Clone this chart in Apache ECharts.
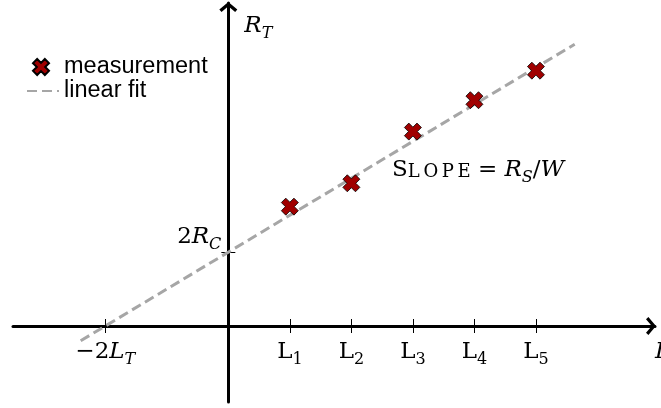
<!DOCTYPE html>
<html>
<head>
<meta charset="utf-8">
<script src="https://cdn.jsdelivr.net/npm/echarts@6/dist/echarts.min.js"></script>
<style>
  html, body { margin: 0; padding: 0; background: #fff; }
  #chart { width: 661px; height: 408px; }
</style>
</head>
<body>
<div id="chart"></div>
<script>
// Transfer-length method: total resistance against channel length
const lengthIndex = [1, 2, 3, 4, 5];
const totalResistance = [1.94, 2.32, 3.16, 3.67, 4.15];

// end points of the linear fit (crosses x at -2, y at 1.2)
const fitX = [-2.4, 5.63];
const fitY = [-0.24, 4.58];

// marked values on the axes
const xTickValues = [-2, 1, 2, 3, 4, 5];
const yTickValues = [1.2];

// where the slope note sits
const slopeNoteAt = [4.06, 2.53];

const X_MIN = -3.5, X_MAX = 6.935;
const Y_MIN = -1.235, Y_MAX = 5.25;

// grid box in pixels; the axes cross at data (0, 0)
const GRID = { left: 13, top: 3, width: 642, height: 399 };
const xZeroShift = -GRID.height * (0 - Y_MIN) / (Y_MAX - Y_MIN);   // lift x axis from the bottom edge to y = 0
const yZeroShift = -GRID.width * (0 - X_MIN) / (X_MAX - X_MIN);    // move y axis from the left edge to x = 0

const SERIF = 'DejaVu Serif';
const SANS = 'Liberation Sans';

const chevron = 'path://M0,7.6 L9,0 L18,7.6 L15.8,10 L9,4.2 L2.2,10 Z';
const crossMark = 'path://M2.6,0 L5,2.4 L7.4,0 L10,2.6 L7.6,5 L10,7.4 L7.4,10 L5,7.6 L2.6,10 L0,7.4 L2.4,5 L0,2.6 Z';

// every token box is 30px tall; padding drops subscripts below the baseline
const mathRich = {
  m:  { fontFamily: SERIF, fontSize: 23, color: '#000', lineHeight: 30 },
  i:  { fontFamily: SERIF, fontSize: 23, fontStyle: 'italic', color: '#000', lineHeight: 30 },
  s:  { fontFamily: SERIF, fontSize: 16, color: '#000', lineHeight: 15, padding: [15, 0, 0, 0] },
  si: { fontFamily: SERIF, fontSize: 16, fontStyle: 'italic', color: '#000', lineHeight: 15, padding: [15, 0, 0, 0] },
  scs:{ fontFamily: SERIF, fontSize: 18, color: '#000', lineHeight: 20, padding: [6.7, 0, 3.3, 0] }
};

function xLabel(v) {
  if (v < 0) return '{m|\u2212' + (-v) + '}{i|L}{si|T}';
  return '{m|L}{s|' + v + '}';
}

const chart = echarts.init(document.getElementById('chart'), null, { renderer: 'canvas' });

const tickStyle = { color: '#000', width: 1 };
const axisLineStyle = {
  onZero: false,
  lineStyle: { color: '#000', width: 3 },
  symbol: ['none', chevron],
  symbolSize: [18, 10],
  symbolOffset: [0, -4]
};

chart.setOption({
  animation: false,
  backgroundColor: '#fff',
  grid: Object.assign({ containLabel: false, outerBoundsMode: 'none' }, GRID),
  legend: [
    {
      data: ['measurement'],
      left: 32, top: 55, padding: 0,
      itemWidth: 16, itemHeight: 16,
      textStyle: { fontFamily: SANS, fontSize: 23.5, color: '#000', padding: [0, 0, 0, 10] }
    },
    {
      data: ['linear fit'],
      left: 26, top: 79, padding: 0,
      itemWidth: 32, itemHeight: 14,
      itemStyle: { opacity: 0 },
      textStyle: { fontFamily: SANS, fontSize: 23.5, color: '#000' }
    }
  ],
  xAxis: [
    {
      type: 'value', min: X_MIN, max: X_MAX,
      position: 'bottom', offset: xZeroShift,
      splitLine: { show: false },
      axisLine: axisLineStyle,
      axisTick: { customValues: xTickValues, length: 7, lineStyle: tickStyle },
      axisLabel: { customValues: xTickValues, margin: 11, formatter: xLabel, rich: mathRich },
      name: '{i|L}',
      nameLocation: 'end',
      nameGap: 0,
      nameTextStyle: { rich: mathRich, align: 'left', verticalAlign: 'top', padding: [11, 0, 0, 0] }
    },
    {
      type: 'value', min: X_MIN, max: X_MAX,
      position: 'bottom', offset: xZeroShift,
      splitLine: { show: false },
      axisLine: { show: false, onZero: false },
      axisLabel: { show: false },
      axisTick: { show: true, inside: true, customValues: xTickValues, length: 7, lineStyle: tickStyle }
    }
  ],
  yAxis: [
    {
      type: 'value', min: Y_MIN, max: Y_MAX,
      position: 'left', offset: yZeroShift,
      splitLine: { show: false },
      axisLine: axisLineStyle,
      axisTick: { customValues: yTickValues, length: 7, lineStyle: tickStyle },
      axisLabel: {
        customValues: yTickValues, margin: 7, verticalAlign: 'bottom',
        formatter: function () { return '{m|2}{i|R}{si|C}'; }, rich: mathRich
      },
      name: '{i|R}{si|T}',
      nameLocation: 'end',
      nameGap: -23,
      nameTextStyle: { rich: mathRich, align: 'left', verticalAlign: 'middle', padding: [0, 0, 0, 16] }
    },
    {
      type: 'value', min: Y_MIN, max: Y_MAX,
      position: 'left', offset: yZeroShift,
      splitLine: { show: false },
      axisLine: { show: false, onZero: false },
      axisLabel: { show: false },
      axisTick: { show: true, inside: true, customValues: yTickValues, length: 7, lineStyle: tickStyle }
    }
  ],
  series: [
    {
      name: 'linear fit',
      type: 'line',
      xAxisIndex: 0, yAxisIndex: 0,
      data: fitX.map((x, k) => [x, fitY[k]]),
      symbol: 'none',
      z: 3,
      lineStyle: { color: '#A6A6A6', width: 3, type: [10, 5] },
      itemStyle: { color: '#A6A6A6' },
      markPoint: {
        symbol: 'circle', symbolSize: 0,
        silent: true,
        label: {
          show: true, position: 'inside',
          formatter: '{m|S}{scs|L\u2009O\u2009P\u2009E}{m| = }{i|R}{si|S}{m|/}{i|W}',
          rich: mathRich
        },
        data: [{ coord: slopeNoteAt }]
      }
    },
    {
      name: 'measurement',
      type: 'scatter',
      xAxisIndex: 0, yAxisIndex: 0,
      z: 4,
      symbol: crossMark,
      symbolSize: 17,
      data: lengthIndex.map((x, k) => [x, totalResistance[k]]),
      itemStyle: { color: '#A00000', borderColor: '#000', borderWidth: 0.8, opacity: 1 }
    }
  ]
});
</script>
</body>
</html>
